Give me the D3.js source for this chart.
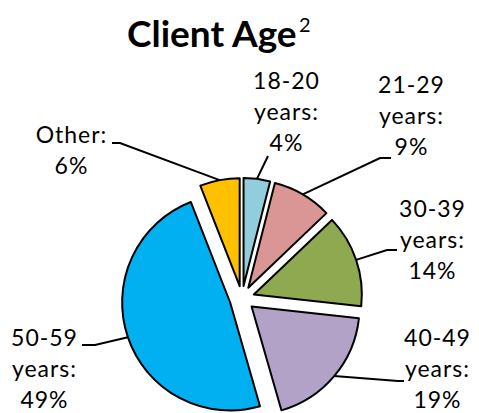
<!DOCTYPE html>
<html>
<head>
<meta charset="utf-8">
<script src="https://cdn.jsdelivr.net/npm/d3@7"></script>
<style>
  body { margin: 0; background: #fff; }
  svg { display: block; }
</style>
</head>
<body>
<div id="chart"></div>
<script>
// data
const categories = ['18-20 years', '21-29 years', '30-39 years', '40-49 years', '50-59 years', 'Other'];
const shares = [4, 9, 14, 19, 49, 6];
const labelLines = [
  ['18-20', 'years:', '4%'],
  ['21-29', 'years:', '9%'],
  ['30-39', 'years:', '14%'],
  ['40-49', 'years:', '19%'],
  ['50-59', 'years:', '49%'],
  ['Other:', '6%'],
];
const sliceColors = ['#92cddc', '#d99694', '#8ea94f', '#b2a2c7', '#00b0f0', '#ffc000'];

// label placement (x centre, first baseline, leader bend points)
const labelLayout = [
  {x: 286, y: 89, leader: [[268, 156]]},
  {x: 411, y: 93, leader: [[380, 158], [391, 158]]},
  {x: 432, y: 217, leader: [[387, 250], [397, 250]]},
  {x: 437, y: 346, leader: [[398, 381], [404, 381]]},
  {x: 44, y: 346, leader: [[95, 345], [82, 345]]},
  {x: 71, y: 143, leader: [[120, 143], [112, 143]]},
];

const width = 479;
const height = 413;
const cx = 242;
const cy = 298.5;
const radius = 108;
const explode = 12.5;
const lineGap = 31;

const svg = d3.select('#chart').append('svg')
    .attr('width', width)
    .attr('height', height);

// title + superscript note marker
svg.append('text')
    .attr('x', 127)
    .attr('y', 47)
    .style('font-family', 'Lato, sans-serif')
    .style('font-weight', 'bold')
    .style('font-size', '37px')
    .style('fill', '#000')
    .text('Client Age');
svg.append('text')
    .attr('x', 299)
    .attr('y', 32)
    .style('font-family', 'Lato, sans-serif')
    .style('font-size', '20px')
    .style('fill', '#000')
    .text('2');

const pie = d3.pie().sort(null).value((d) => d);
const arcs = pie(shares);
const arc = d3.arc().innerRadius(0).outerRadius(radius);

const offset = (d) => {
  const a = (d.startAngle + d.endAngle) / 2;
  return [explode * Math.sin(a), -explode * Math.cos(a)];
};

const slices = svg.append('g')
    .attr('name', 'slices')
    .attr('transform', `translate(${cx},${cy})`);

slices.selectAll('path')
    .data(arcs)
    .enter()
    .append('path')
    .attr('transform', (d) => `translate(${offset(d)[0]},${offset(d)[1]})`)
    .attr('d', arc)
    .attr('fill', (d, i) => sliceColors[i])
    .attr('stroke', '#000')
    .attr('stroke-width', 2)
    .attr('stroke-linejoin', 'round');

// leader lines start on the outer edge at each slice's bisector
const leaders = svg.append('g').attr('name', 'leaders');
arcs.forEach((d, i) => {
  const a = (d.startAngle + d.endAngle) / 2;
  const [ox, oy] = offset(d);
  const start = [cx + ox + radius * Math.sin(a), cy + oy - radius * Math.cos(a)];
  const pts = [start].concat(labelLayout[i].leader);
  leaders.append('path')
      .attr('d', d3.line()(pts))
      .attr('fill', 'none')
      .attr('stroke', '#000')
      .attr('stroke-width', 2);
});

// labels
const labels = svg.append('g').attr('name', 'labels');
labelLines.forEach((lines, i) => {
  const t = labels.append('text')
      .attr('text-anchor', 'middle')
      .style('font-family', 'Lato, sans-serif')
      .style('font-size', '23px')
      .style('letter-spacing', '1px')
      .style('fill', '#000');
  lines.forEach((line, j) => {
    t.append('tspan')
        .attr('x', labelLayout[i].x + 0.5)
        .attr('y', labelLayout[i].y + j * lineGap)
        .text(line);
  });
});
</script>
</body>
</html>
